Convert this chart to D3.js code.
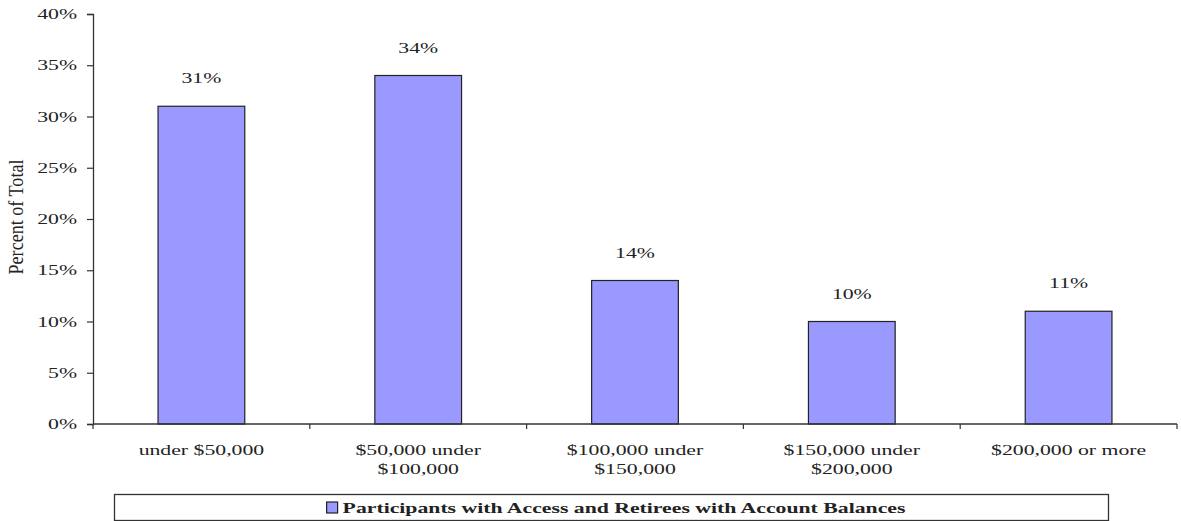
<!DOCTYPE html>
<html>
<head>
<meta charset="utf-8">
<script src="https://cdn.jsdelivr.net/npm/d3@7"></script>
<style>
  html, body { margin: 0; padding: 0; background: #fff; }
  svg { display: block; }
  text { font-family: "Liberation Serif", "DejaVu Serif", serif; fill: #222; }
</style>
</head>
<body>
<svg id="chart" width="1181" height="521"></svg>
<script>
const categories = [["under $50,000"], ["$50,000 under", "$100,000"], ["$100,000 under", "$150,000"], ["$150,000 under", "$200,000"], ["$200,000 or more"]];
const values = [31, 34, 14, 10, 11];
const yTicks = [0, 5, 10, 15, 20, 25, 30, 35, 40];
const seriesName = "Participants with Access and Retirees with Account Balances";
const yTitle = "Percent of Total";

const svg = d3.select("#chart");
const mLeft = 93, mRight = 1177, mTop = 14, mBottom = 424;
const SX = 1.5; // horizontal stretch of the lettering
const FS = "14.5px";

const x = d3.scaleBand().domain(d3.range(categories.length)).range([mLeft, mRight]).paddingInner(0).paddingOuter(0);
const y = d3.scaleLinear().domain([0, 40]).range([mBottom, mTop]);

const barW = x.bandwidth() * 0.4;

// bars
svg.selectAll("rect.bar").data(values).join("rect")
  .attr("class", "bar")
  .attr("x", (d, i) => x(i) + x.bandwidth() / 2 - barW / 2)
  .attr("y", d => y(d))
  .attr("width", barW)
  .attr("height", d => y(0) - y(d))
  .attr("fill", "#9999ff")
  .attr("stroke", "#222")
  .attr("stroke-width", 1.2);

// value labels
svg.selectAll("text.val").data(values).join("text")
  .attr("class", "val")
  .attr("transform", (d, i) => `translate(${x(i) + x.bandwidth() / 2},${y(d) - 23}) scale(${SX},1)`)
  .attr("text-anchor", "middle")
  .style("font-size", FS)
  .text(d => d + "%");

// y axis
const yAxis = svg.append("g").attr("transform", `translate(${mLeft},0)`)
  .call(d3.axisLeft(y).tickValues(yTicks).tickFormat(d => d + "%").tickSize(6).tickPadding(6));
yAxis.select(".domain").attr("stroke", "#333").attr("stroke-width", 1.3);
yAxis.selectAll(".tick line").attr("stroke", "#333").attr("stroke-width", 1.2);
yAxis.selectAll(".tick text")
  .attr("x", -16 / SX)
  .attr("transform", `scale(${SX},1)`)
  .style("font-size", FS).attr("fill", "#222")
  .style("font-family", "'Liberation Serif', serif");

// x axis
const xAxis = svg.append("g").attr("transform", `translate(0,${mBottom})`);
xAxis.append("line").attr("x1", mLeft).attr("x2", mRight).attr("y1", 0).attr("y2", 0)
  .attr("stroke", "#333").attr("stroke-width", 1.3);
const boundaries = d3.range(categories.length + 1).map(i => i < categories.length ? x(i) : x(categories.length - 1) + x.bandwidth());
xAxis.selectAll("line.tk").data(boundaries).join("line")
  .attr("class", "tk")
  .attr("x1", d => d).attr("x2", d => d).attr("y1", 0).attr("y2", 5)
  .attr("stroke", "#333").attr("stroke-width", 1.2);

// category labels
const catText = svg.selectAll("text.cat").data(categories).join("text")
  .attr("class", "cat")
  .attr("transform", (d, i) => `translate(${x(i) + x.bandwidth() / 2},455) scale(${SX},1)`)
  .attr("text-anchor", "middle")
  .style("font-size", FS);
catText.selectAll("tspan").data(d => d).join("tspan")
  .attr("x", 0)
  .attr("dy", (d, i) => i === 0 ? 0 : 19)
  .text(d => d);

// y title
svg.append("text")
  .attr("transform", `translate(23,217) rotate(-90) scale(1,${SX})`)
  .attr("text-anchor", "middle")
  .style("font-size", FS)
  .attr("textLength", 115)
  .attr("lengthAdjust", "spacingAndGlyphs")
  .text(yTitle);

// legend
const lg = svg.append("g");
lg.append("rect").attr("x", 114.5).attr("y", 494.5).attr("width", 994).attr("height", 26)
  .attr("fill", "#fff").attr("stroke", "#333").attr("stroke-width", 1.3);
const lt = lg.append("text")
  .attr("transform", `translate(624,513) scale(${SX},1)`)
  .attr("text-anchor", "middle")
  .style("font-size", FS).style("font-weight", "bold")
  .text(seriesName);
const bb = lt.node().getBBox();
const textLeft = 624 + bb.x * SX;
lg.append("rect").attr("x", textLeft - 16).attr("y", 502).attr("width", 11).attr("height", 11)
  .attr("fill", "#9999ff").attr("stroke", "#222").attr("stroke-width", 1.2);
</script>
</body>
</html>
